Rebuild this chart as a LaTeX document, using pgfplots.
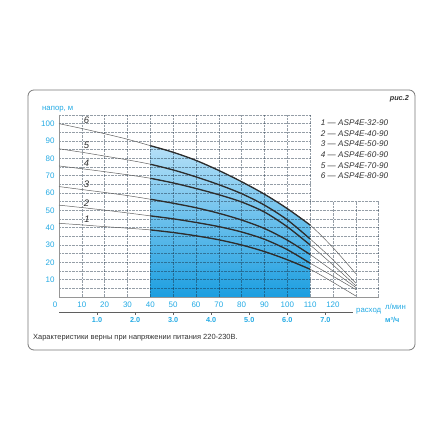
\documentclass[border=0pt]{standalone}
\usepackage{pgfplots}
\pgfplotsset{compat=1.18}
\usepackage{pgfplotstable}
\usepackage{fontspec}
\setmainfont{Liberation Sans}
\definecolor{skyb}{RGB}{35,170,228}
\definecolor{curvec}{RGB}{45,45,45}
\definecolor{thinc}{RGB}{95,95,95}
\definecolor{gridc}{RGB}{20,40,60}
\definecolor{axc}{RGB}{150,150,150}
\definecolor{framec}{RGB}{120,120,120}
\definecolor{fillTop}{RGB}{182,224,247}
\definecolor{fillBot}{RGB}{28,158,224}
\definecolor{txt}{RGB}{50,50,50}
\tikzset{gridst/.style={gridc, draw opacity=0.45, line width=0.4pt, dash pattern=on 0.6pt off 0.8pt}}

\pgfplotstableread{
x y
0 42.5
10 41.6
20 40.6
30 39.7
40 38.7
50 37.2
60 35.3
70 33.0
80 30.0
90 26.2
100 21.5
110 16.0
120 8.5
130 0.6
}\cA
\pgfplotstableread{
x y
0 53.0
10 51.6
20 50.1
30 48.5
40 46.8
50 45.1
60 43.0
70 40.6
80 37.5
90 33.3
100 27.3
110 19.5
120 12.0
130 4.3
}\cB
\pgfplotstableread{
x y
0 63.7
10 62.0
20 60.3
30 58.5
40 56.4
50 54.1
60 51.5
70 48.3
80 44.4
90 39.5
100 32.8
110 24.5
120 15.0
130 5.5
}\cC
\pgfplotstableread{
x y
0 75.6
10 74.0
20 72.3
30 70.5
40 68.5
50 65.8
60 62.6
70 59.0
80 54.8
90 49.0
100 40.5
110 30.0
120 18.5
130 6.5
}\cD
\pgfplotstableread{
x y
0 85.5
10 83.5
20 81.3
30 79.1
40 76.6
50 73.3
60 69.3
70 64.8
80 59.6
90 53.0
100 44.5
110 33.5
120 21.5
130 8.0
}\cE
\pgfplotstableread{
x y
0 100.0
10 97.2
20 94.2
30 91.0
40 87.3
50 83.5
60 78.8
70 73.0
80 66.5
90 59.3
100 51.0
110 41.5
120 28.5
130 13.5
}\cF

\begin{document}
\begin{tikzpicture}[x=1bp,y=1bp]
\path (0,0) rectangle (440,440);
\draw[framec, line width=0.8pt, rounded corners=6] (28,350) rectangle (415,90);
\begin{axis}[
  at={(59bp,143bp)}, anchor=south west,
  scale only axis, width=319.6bp, height=182bp,
  xmin=0, xmax=140, ymin=0, ymax=105,
  clip=false,
  axis line style={draw=none},
  major tick length=0pt,
  xtick={10,20,...,120}, ytick={10,20,...,100},
  /pgf/number format/assume math mode=true,
  tick label style={font=\fontsize{8}{9}\selectfont, color=skyb},
  xticklabel style={yshift=-1.5bp},
  yticklabel style={xshift=-1bp},
  thinline/.style={thinc, line width=0.5pt, smooth, no marks},
  thickline/.style={curvec, line width=1.3pt, smooth, no marks},
]
\addplot[draw=none, top color=fillTop, bottom color=fillBot, smooth, restrict x to domain=40:110] table {\cF} \closedcycle;
\pgfplotsinvokeforeach{10,20,...,110}{\draw[gridst] (axis cs:#1,0) -- (axis cs:#1,105);}
\pgfplotsinvokeforeach{120,130,140}{\draw[gridst] (axis cs:#1,0) -- (axis cs:#1,55);}
\pgfplotsinvokeforeach{5,10,...,105}{\draw[gridst] (axis cs:0,#1) -- (axis cs:110,#1);}
\pgfplotsinvokeforeach{5,10,...,55}{\draw[gridst] (axis cs:110,#1) -- (axis cs:140,#1);}
\draw[axc, line width=0.6pt] (axis cs:0,105) -- (axis cs:0,0) -- (axis cs:140,0);
\addplot[thinline] table {\cA};
\addplot[thinline] table {\cB};
\addplot[thinline] table {\cC};
\addplot[thinline] table {\cD};
\addplot[thinline] table {\cE};
\addplot[thinline] table {\cF};
\addplot[thickline, restrict x to domain=40:110] table {\cA};
\addplot[thickline, restrict x to domain=40:110] table {\cB};
\addplot[thickline, restrict x to domain=40:110] table {\cC};
\addplot[thickline, restrict x to domain=40:110] table {\cD};
\addplot[thickline, restrict x to domain=40:110] table {\cE};
\addplot[thickline, restrict x to domain=40:110] table {\cF};
% curve numbers
\node[txt, font=\fontsize{9.5}{10}\selectfont\itshape] at (axis cs:12,101.9) {6};
\node[txt, font=\fontsize{9.5}{10}\selectfont\itshape] at (axis cs:12,87.3) {5};
\node[txt, font=\fontsize{9.5}{10}\selectfont\itshape] at (axis cs:12,77.3) {4};
\node[txt, font=\fontsize{9.5}{10}\selectfont\itshape] at (axis cs:12,64.8) {3};
\node[txt, font=\fontsize{9.5}{10}\selectfont\itshape] at (axis cs:12,53.9) {2};
\node[txt, font=\fontsize{9.5}{10}\selectfont\itshape] at (axis cs:12.3,45) {1};
% zero label
\node[skyb, font=\fontsize{8}{9}\selectfont] at (axis cs:-1.75,-4.3) {0};
% m3/h scale
\draw[thinc, line width=0.6pt] (axis cs:0,-8.66) -- (axis cs:129,-8.66);
\pgfplotsinvokeforeach{16.667,33.333,50,66.667,83.333,100,116.667}{\draw[thinc, line width=0.6pt] (axis cs:#1,-8.66) -- (axis cs:#1,-10.1);}
\node[skyb, font=\fontsize{7.3}{8}\selectfont\bfseries] at (axis cs:16.667,-13.3) {1.0};
\node[skyb, font=\fontsize{7.3}{8}\selectfont\bfseries] at (axis cs:33.333,-13.3) {2.0};
\node[skyb, font=\fontsize{7.3}{8}\selectfont\bfseries] at (axis cs:50,-13.3) {3.0};
\node[skyb, font=\fontsize{7.3}{8}\selectfont\bfseries] at (axis cs:66.667,-13.3) {4.0};
\node[skyb, font=\fontsize{7.3}{8}\selectfont\bfseries] at (axis cs:83.333,-13.3) {5.0};
\node[skyb, font=\fontsize{7.3}{8}\selectfont\bfseries] at (axis cs:100,-13.3) {6.0};
\node[skyb, font=\fontsize{7.3}{8}\selectfont\bfseries] at (axis cs:116.667,-13.3) {7.0};
\end{axis}
% texts
\node[skyb, anchor=west, inner sep=0, font=\fontsize{7.8}{9}\selectfont] at (42,331) {напор, м};
\node[txt, anchor=east, inner sep=0, font=\fontsize{7.3}{8}\selectfont\bfseries\itshape] at (409,341) {рис.2};
\node[skyb, anchor=west, inner sep=0, font=\fontsize{7.8}{9}\selectfont] at (356,129) {расход};
\node[skyb, anchor=west, inner sep=0, font=\fontsize{7.8}{9}\selectfont] at (385,133.5) {л/мин};
\node[skyb, anchor=west, inner sep=0, font=\fontsize{7.3}{8}\selectfont\bfseries] at (385,120) {м³/ч};
\node[txt, anchor=west, inner sep=0, font=\fontsize{7.5}{9}\selectfont] at (33,102.5) {Характеристики верны при напряжении питания 220-230В.};
% legend
\foreach \i/\n in {0/1 — ASP4E-32-90, 1/2 — ASP4E-40-90, 2/3 — ASP4E-50-90, 3/4 — ASP4E-60-90, 4/5 — ASP4E-70-90, 5/6 — ASP4E-80-90}{
  \node[txt, anchor=west, inner sep=0, font=\fontsize{8.2}{9}\selectfont\itshape] at (320.7,317.5-10.7*\i) {\n};
}
\end{tikzpicture}
\end{document}
